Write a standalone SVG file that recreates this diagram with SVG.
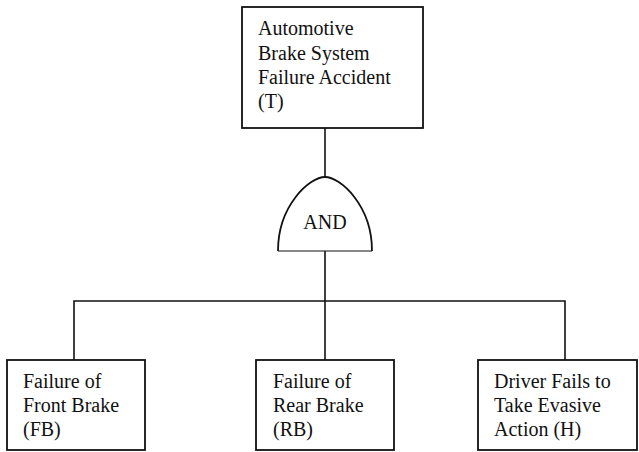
<svg xmlns="http://www.w3.org/2000/svg" width="639" height="452" viewBox="0 0 639 452">
<style>
.box{fill:#fff;stroke:#111;stroke-width:1.8}
.ln{fill:none;stroke:#111;stroke-width:1.6}
.t{font-family:"Liberation Serif","Times New Roman",serif;font-size:20px;fill:#111}
</style>
<rect width="639" height="452" fill="#fff"/>
<g id="connectors">
<path class="ln" d="M325,128 V177"/>
<path class="ln" d="M325,251 V301 M74,360 V301 H565 V360 M325,301 V360"/>
</g>
<g id="top-event">
<rect class="box" x="242" y="7" width="181" height="121"/>
<text class="t" x="258" y="35">Automotive</text>
<text class="t" x="258" y="60">Brake System</text>
<text class="t" x="258" y="84">Failure Accident</text>
<text class="t" x="258" y="108">(T)</text>
</g>
<g id="and-gate">
<path d="M278,251 C278,205 310,177 325,177 C340,177 372,205 372,251" fill="#fff" stroke="#111" stroke-width="1.8"/>
<path d="M278,251 H372" stroke="#111" stroke-width="1" fill="none"/>
<text class="t" x="325" y="229" text-anchor="middle">AND</text>
</g>
<g id="fb">
<rect class="box" x="7" y="360" width="138" height="90"/>
<text class="t" x="23" y="388">Failure of</text>
<text class="t" x="23" y="412">Front Brake</text>
<text class="t" x="23" y="436">(FB)</text>
</g>
<g id="rb">
<rect class="box" x="256" y="360" width="138" height="90"/>
<text class="t" x="273" y="388">Failure of</text>
<text class="t" x="273" y="412">Rear Brake</text>
<text class="t" x="273" y="436">(RB)</text>
</g>
<g id="h">
<rect class="box" x="478" y="360" width="159" height="90"/>
<text class="t" x="494" y="388">Driver Fails to</text>
<text class="t" x="494" y="412">Take Evasive</text>
<text class="t" x="494" y="436">Action (H)</text>
</g>
</svg>
